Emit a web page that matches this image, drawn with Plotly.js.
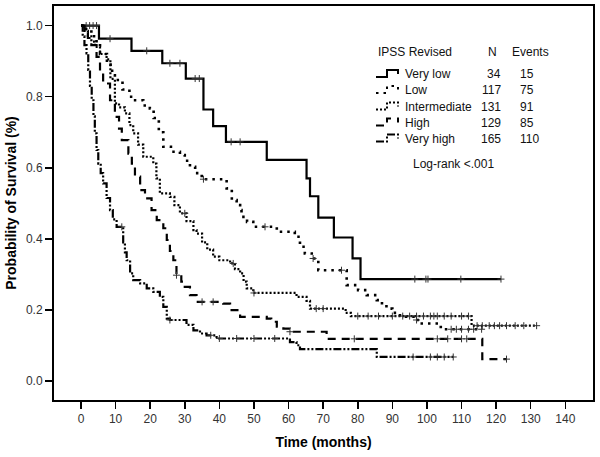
<!DOCTYPE html>
<html>
<head>
<meta charset="utf-8">
<script src="https://cdn.plot.ly/plotly-3.0.1.min.js"></script>
<style>html,body{margin:0;padding:0;background:#fff;}#chart{width:600px;height:457px;}</style>
</head>
<body>
<div id="chart"></div>
<script>
// ---- Data ----
const groupNames = ["Very low", "Low", "Intermediate", "High", "Very high"];
const groupN = [34, 117, 131, 129, 165];
const groupEvents = [15, 75, 91, 85, 110];

const veryLowT = [0, 5.2, 14.6, 23.5, 30.3, 35.4, 38.2, 41.9, 53.7, 65.2, 66.2, 68.6, 73.1, 78.5, 80.8, 121.4];
const veryLowS = [1, 0.963, 0.929, 0.894, 0.851, 0.764, 0.717, 0.673, 0.622, 0.570, 0.520, 0.460, 0.404, 0.345, 0.287, 0.287];
const veryLowCens = [1.5, 2.5, 3.5, 4.5, 8.4, 19, 25.7, 28.6, 33, 34.2, 43.4, 46, 96.5, 99.7, 100.3, 109.8, 121.4];

const lowT = [0, 1.5, 3, 4.5, 5.5, 7.5, 9, 9.8, 12, 14, 15.1, 18, 19.9, 21, 22.5, 23.8, 26, 28.6, 30, 31.5, 33, 34.9, 42.1, 43.6, 45, 46, 46.4, 48, 49.8, 56.6, 61.8, 63.3, 64.7, 66.7, 68.6, 76.8, 80.1, 82.6, 85.5, 87, 88.3, 90, 92.2, 96.5, 98, 104, 115.8];
const lowS = [1, 0.99, 0.97, 0.95, 0.92, 0.89, 0.86, 0.847, 0.82, 0.80, 0.79, 0.775, 0.767, 0.74, 0.70, 0.659, 0.645, 0.636, 0.62, 0.603, 0.585, 0.568, 0.542, 0.509, 0.495, 0.481, 0.462, 0.448, 0.434, 0.42, 0.406, 0.378, 0.359, 0.345, 0.312, 0.27, 0.256, 0.242, 0.228, 0.215, 0.204, 0.192, 0.181, 0.172, 0.162, 0.146, 0.146];
const lowCens = [35.4, 53.2, 67.1, 75.3, 97, 107, 108.5, 110, 112, 113.5, 115.8];

const interT = [0, 1, 2, 3, 4, 5.5, 7.4, 8.5, 9.8, 11, 12.7, 14, 15.1, 16.5, 18, 20.9, 21.8, 22.8, 25.7, 27, 28.6, 30.5, 32.5, 33.4, 35, 36.5, 38.2, 40, 43.1, 44.5, 46, 47, 47.9, 49.8, 62.3, 65.2, 66.2, 76.5, 78, 112.9, 131.7];
const interS = [1, 0.985, 0.97, 0.955, 0.94, 0.92, 0.905, 0.85, 0.781, 0.77, 0.753, 0.72, 0.697, 0.665, 0.631, 0.612, 0.57, 0.528, 0.518, 0.495, 0.472, 0.45, 0.425, 0.415, 0.39, 0.37, 0.35, 0.34, 0.331, 0.315, 0.303, 0.28, 0.261, 0.248, 0.237, 0.226, 0.204, 0.192, 0.183, 0.156, 0.156];
const interCens = [30, 44, 50, 68, 70, 80, 83, 86, 90, 93, 95, 97, 99, 101, 102, 103, 105, 107, 110, 112, 114.5, 116, 118, 119.5, 121, 123, 125.5, 128, 131.7];

const highT = [0, 1, 2, 3, 4.5, 5.5, 6.4, 8.4, 9.8, 11, 11.8, 13.7, 14.7, 15.6, 17.1, 18.5, 20.4, 21.9, 23.8, 24.8, 25.7, 26.7, 27.6, 29, 30, 31.5, 33.4, 41.1, 43.1, 46, 53.7, 55, 56.6, 58.5, 60.4, 71, 116, 123];
const highS = [1, 0.98, 0.965, 0.945, 0.912, 0.87, 0.837, 0.79, 0.743, 0.71, 0.678, 0.64, 0.612, 0.575, 0.537, 0.514, 0.481, 0.453, 0.43, 0.397, 0.366, 0.34, 0.298, 0.28, 0.265, 0.242, 0.223, 0.218, 0.2, 0.181, 0.176, 0.167, 0.153, 0.148, 0.139, 0.119, 0.062, 0.062];
const highCens = [27.6, 35, 38.2, 60.4, 79, 103, 106, 110, 111.5, 123];

const vhighT = [0, 0.5, 1, 1.6, 2.1, 2.6, 3.1, 3.6, 4, 4.5, 5, 5.7, 6.4, 7.4, 8.4, 9.2, 10.3, 12.2, 12.7, 13.2, 14.2, 15.1, 17.1, 19, 20.9, 22.8, 23.8, 24.8, 25.7, 30.5, 32.5, 34.4, 36.3, 39.2, 60.4, 62.3, 63.3, 85.5, 107.6];
const vhighS = [1, 0.97, 0.945, 0.922, 0.875, 0.83, 0.79, 0.745, 0.697, 0.65, 0.612, 0.585, 0.556, 0.515, 0.481, 0.455, 0.434, 0.39, 0.362, 0.34, 0.303, 0.284, 0.275, 0.261, 0.251, 0.237, 0.209, 0.176, 0.172, 0.158, 0.143, 0.134, 0.129, 0.12, 0.11, 0.101, 0.09, 0.068, 0.068];
const vhighCens = [11.8, 25.7, 37.5, 40, 45, 50, 56, 96, 101, 103, 105, 107.6];

const xTicks = [0, 10, 20, 30, 40, 50, 60, 70, 80, 90, 100, 110, 120, 130, 140];
const yTicks = [0, 0.2, 0.4, 0.6, 0.8, 1.0];
const yTickText = ["0.0", "0.2", "0.4", "0.6", "0.8", "1.0"];

// ---- Styling ----
const FONT = "Liberation Sans, Arial, sans-serif";
const dashes = ["solid", "2.5px,5px", "2px,2px", "8px,6px", "8px,2px,2px,2px,2px,2px"];
const widths = [2.2, 2.6, 2.2, 2.2, 2.2];
const series = [
  [veryLowT, veryLowS, veryLowCens],
  [lowT, lowS, lowCens],
  [interT, interS, interCens],
  [highT, highS, highCens],
  [vhighT, vhighS, vhighCens]
];

function stepAt(T, S, t) {
  let v = S[0];
  for (let i = 0; i < T.length; i++) { if (T[i] <= t) v = S[i]; }
  return v;
}

const traces = [];
series.forEach((sr, k) => {
  traces.push({
    x: sr[0], y: sr[1], type: "scatter", mode: "lines",
    line: {shape: "hv", color: "#000", width: widths[k], dash: dashes[k]},
    hoverinfo: "skip", showlegend: false
  });
  traces.push({
    x: sr[2], y: sr[2].map(t => stepAt(sr[0], sr[1], t)), type: "scatter", mode: "markers",
    marker: {symbol: "cross-thin", size: 5, color: "#000", line: {color: "#333", width: 1}},
    hoverinfo: "skip", showlegend: false
  });
});

// pixel -> paper helpers for legend placement
const L = 54, R = 593, T0 = 6, B = 400;
const px = x => (x - L) / (R - L);
const py = y => (B - y) / (B - T0);

const annotations = [];
const shapes = [];
const txt = (x, y, s, anchor) => annotations.push({
  xref: "paper", yref: "paper", x: px(x), y: py(y), text: s, showarrow: false,
  xanchor: anchor || "left", yanchor: "middle", font: {family: FONT, size: 12, color: "#111"}
});
txt(376, 52, "IPSS Revised");
txt(492, 52, "N", "center");
txt(510, 52, "Events");
const rowY = [74, 90, 106.5, 122.5, 138.5];
groupNames.forEach((g, k) => {
  txt(403, rowY[k], g);
  txt(503, rowY[k], String(groupN[k]), "right");
  txt(518, rowY[k], String(groupEvents[k]));
  const y = rowY[k];
  shapes.push({
    type: "path", xref: "paper", yref: "paper",
    path: `M${px(376)},${py(y + 3)} L${px(387)},${py(y + 3)} L${px(387)},${py(y - 4)} L${px(398)},${py(y - 4)} L${px(398)},${py(y)}`,
    line: {color: "#000", width: 2, dash: dashes[k]}
  });
});
txt(453, 164, "Log-rank <.001", "center");

const layout = {
  width: 600, height: 457,
  margin: {l: L, r: 600 - R, t: T0, b: 457 - B},
  paper_bgcolor: "#fff", plot_bgcolor: "#fff",
  font: {family: FONT, color: "#222"},
  showlegend: false,
  xaxis: {
    range: [-7.8, 148], tickvals: xTicks, ticks: "outside", ticklen: 7, tickwidth: 1.5, tickcolor: "#000",
    showline: true, linewidth: 2, linecolor: "#000", mirror: true, showgrid: false, zeroline: false,
    tickfont: {family: FONT, size: 12, color: "#333"},
    title: {text: "<b>Time (months)</b>", font: {family: FONT, size: 14, color: "#000"}, standoff: 12}
  },
  yaxis: {
    range: [-0.053, 1.055], tickvals: yTicks, ticktext: yTickText, ticks: "outside", ticklen: 7, tickwidth: 1.5, tickcolor: "#000",
    showline: true, linewidth: 2, linecolor: "#000", mirror: true, showgrid: false, zeroline: false,
    tickfont: {family: FONT, size: 12, color: "#333"},
    title: {text: "<b>Probability of Survival (%)</b>", font: {family: FONT, size: 14, color: "#000"}, standoff: 6}
  },
  annotations: annotations,
  shapes: shapes
};

Plotly.newPlot("chart", traces, layout, {staticPlot: true, displayModeBar: false});
</script>
</body>
</html>
